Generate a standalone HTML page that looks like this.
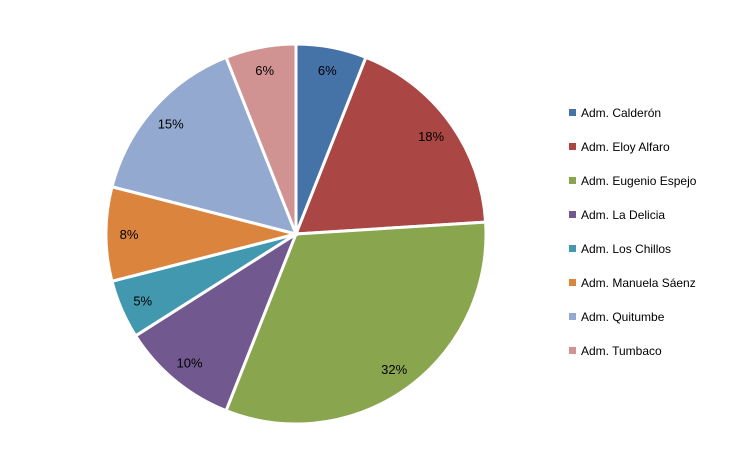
<!DOCTYPE html>
<html><head><meta charset="utf-8"><style>
body{margin:0;background:#fff;}
svg text{font-family:"Liberation Sans",sans-serif;}
</style></head><body>
<svg width="737" height="469">
<g id="slices"></g>
<g id="labels"></g>
<g id="legend"></g>
</svg>
<script>
const categories=["Adm. Calderón","Adm. Eloy Alfaro","Adm. Eugenio Espejo","Adm. La Delicia","Adm. Los Chillos","Adm. Manuela Sáenz","Adm. Quitumbe","Adm. Tumbaco"];
const values=[6,18,32,10,5,8,15,6];
const labelTexts=["6%","18%","32%","10%","5%","8%","15%","6%"];
const colors=["#4572A7","#AA4643","#89A54E","#71588F","#4198AF","#DB843D","#93A9CF","#D19392"];
const NS="http://www.w3.org/2000/svg";
const cx=296,cy=234,R=190,LR=167;
const total=values.reduce((a,b)=>a+b,0);
const sG=document.getElementById('slices'),lG=document.getElementById('labels'),gG=document.getElementById('legend');
function pt(a,r){return [cx+r*Math.sin(a),cy-r*Math.cos(a)];}
let acc=0;
values.forEach((v,i)=>{
 const a0=acc/total*2*Math.PI;acc+=v;const a1=acc/total*2*Math.PI;
 const p0=pt(a0,R),p1=pt(a1,R);
 const p=document.createElementNS(NS,'path');
 p.setAttribute('d',`M${cx},${cy}L${p0[0]},${p0[1]}A${R},${R} 0 ${a1-a0>Math.PI?1:0} 1 ${p1[0]},${p1[1]}Z`);
 p.setAttribute('fill',colors[i]);p.setAttribute('stroke','#fff');p.setAttribute('stroke-width','3');
 
 
 sG.appendChild(p);
 const m=pt((a0+a1)/2,LR);
 const t=document.createElementNS(NS,'text');
 t.setAttribute('x',m[0]);t.setAttribute('y',m[1]+5);t.setAttribute('text-anchor','middle');t.setAttribute('font-size','13');t.setAttribute('fill','#000');
 t.textContent=labelTexts[i];
 
 
 lG.appendChild(t);
 const y=113+i*34;
 const r=document.createElementNS(NS,'rect');
 r.setAttribute('x',569);r.setAttribute('y',y-4);r.setAttribute('width',7);r.setAttribute('height',7);r.setAttribute('fill',colors[i]);
 
 
 gG.appendChild(r);
 const lt=document.createElementNS(NS,'text');
 lt.setAttribute('x',581);lt.setAttribute('y',y+4);lt.setAttribute('font-size','12');lt.setAttribute('fill','#000');
 lt.textContent=categories[i];
 
 
 gG.appendChild(lt);
});
</script>
</body></html>
